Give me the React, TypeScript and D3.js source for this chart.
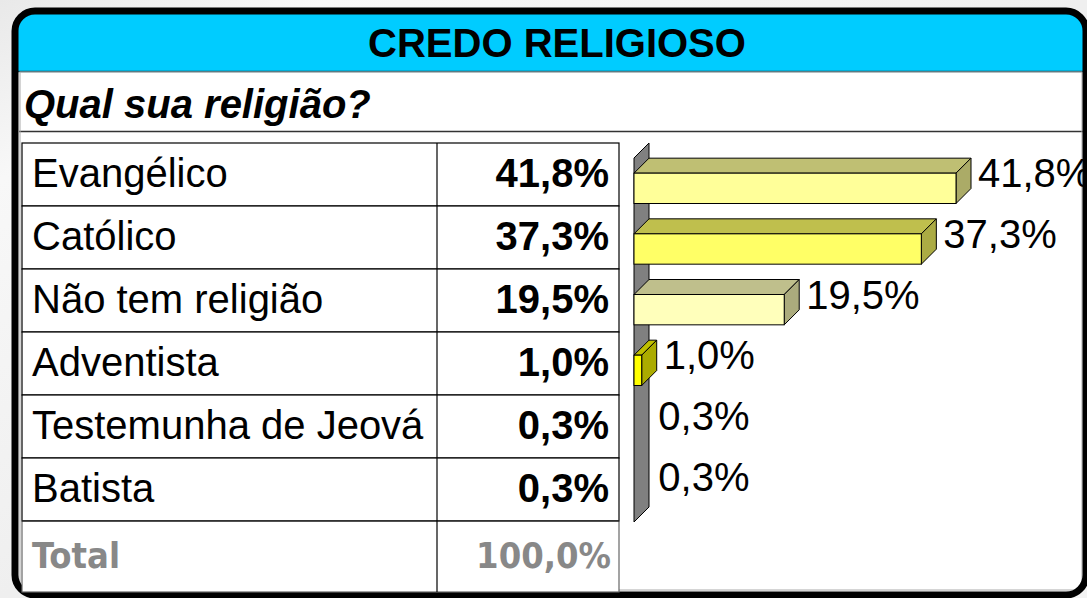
import React from 'react';
import * as d3 from 'd3';

const categories = ["Evangélico", "Católico", "Não tem religião", "Adventista", "Testemunha de Jeová", "Batista"];
const values = [41.8, 37.3, 19.5, 1.0, 0.3, 0.3];
const barColors = ["#FFFF99", "#FFFF66", "#FFFFBB", "#FFFF00", "#FFFF99", "#FFFF66"];
const totalLabel = "Total";
const totalValue = 100.0;
const title = "CREDO RELIGIOSO";
const question = "Qual sua religião?";

const W = 1087;
const H = 598;
const FONT = "'Liberation Sans', Arial, sans-serif";

const ptBR = d3.formatLocale({ decimal: ",", thousands: ".", grouping: [3], currency: ["R$", ""] });
const fmt = (v: number) => ptBR.format(".1f")(v) + "%";

// darker shade for the 3d faces
const shade = (c: string, k: number) => {
  const rgb = d3.rgb(c);
  return d3.rgb(rgb.r * k, rgb.g * k, rgb.b * k).formatHex();
};

export default function App() {
  // table geometry
  const tLeft = 22, tRight = 619, tDiv = 437, tTop = 143, rowH = 63, tBottom = 592;
  const rows = d3.scaleBand<string>()
    .domain([...categories, totalLabel])
    .range([tTop, tTop + rowH * (categories.length + 1)]);

  // chart geometry
  const depth = 15;
  const x = d3.scaleLinear().domain([0, 41.8]).range([634, 956]);
  const y = d3.scaleBand<string>()
    .domain(categories)
    .range([158, 522])
    .paddingInner(0.5)
    .paddingOuter(0.25);
  const bw = y.bandwidth();
  const x0 = x(0);
  const yTop = y.range()[0];
  const yBot = y.range()[1];

  return (
    <svg width={W} height={H} style={{ position: "absolute", left: 0, top: 0, display: "block" }}>
      <defs>
        <clipPath id="frameClip">
          <rect x={15} y={11} width={1071} height={584} rx={20} />
        </clipPath>
        <linearGradient id="bg" x1="0" y1="0" x2="1" y2="1">
          <stop offset="0" stopColor="#e9e9e9" />
          <stop offset="0.15" stopColor="#f8f8f8" />
          <stop offset="0.5" stopColor="#efefef" />
          <stop offset="1" stopColor="#f3f3f3" />
        </linearGradient>
      </defs>
      <rect x={0} y={0} width={W} height={H} fill="url(#bg)" />

      {/* panel */}
      <rect x={15} y={11} width={1071} height={584} rx={20} fill="#ffffff" />
      <g clipPath="url(#frameClip)">
        <rect x={15} y={11} width={1071} height={60} fill="#00CCFF" />
        <line x1={15} x2={1087} y1={71.5} y2={71.5} stroke="#0b4f5e" strokeWidth={1.5} />
        <line x1={19} x2={1087} y1={131.5} y2={131.5} stroke="#333" strokeWidth={1.5} />
        <rect x={20} y={72} width={1062} height={518} fill="none" stroke="#aaa" strokeWidth={1} />
      </g>
      <rect x={15} y={11} width={1071} height={584} rx={20} fill="none" stroke="#000" strokeWidth={7} />

      <text x={557} y={57} textAnchor="middle" fontFamily={FONT} fontWeight="bold" fontSize={40}
        fill="#000">{title}</text>
      <text x={24} y={118} fontFamily={FONT} fontWeight="bold" fontStyle="italic" fontSize={40}
        fill="#000">{question}</text>

      {/* table */}
      <g>
        {categories.map((c, i) => (
          <g key={c}>
            <rect x={tLeft} y={rows(c)} width={tRight - tLeft} height={rowH} fill="#fff"
              stroke="#000" strokeWidth={1.2} />
            <text x={32} y={(rows(c) as number) + 44} fontFamily={FONT} fontSize={40} fill="#000">{c}</text>
            <text x={609} y={(rows(c) as number) + 44} textAnchor="end" fontFamily={FONT}
              fontWeight="bold" fontSize={40} fill="#000">{fmt(values[i])}</text>
          </g>
        ))}
        <rect x={tLeft} y={rows(totalLabel)} width={tRight - tLeft}
          height={tBottom - (rows(totalLabel) as number)} fill="#fff" stroke="#666" strokeWidth={1.2} />
        <line x1={tLeft} x2={tRight} y1={rows(totalLabel)} y2={rows(totalLabel)} stroke="#000" strokeWidth={1.2} />
        <line x1={tDiv} x2={tDiv} y1={tTop} y2={tBottom} stroke="#000" strokeWidth={1.2} />
        <text x={32} y={(rows(totalLabel) as number) + 47}
          fontFamily="'DejaVu Sans Condensed', 'DejaVu Sans', sans-serif" fontStretch="condensed"
          fontWeight="bold" fontSize={36} fill="#888">{totalLabel}</text>
        <text x={611} y={(rows(totalLabel) as number) + 47} textAnchor="end"
          fontFamily="'DejaVu Sans Condensed', 'DejaVu Sans', sans-serif" fontStretch="condensed"
          fontWeight="bold" fontSize={36} fill="#888">{fmt(totalValue)}</text>
      </g>

      {/* 3d wall */}
      <polygon
        points={`${x0},${yTop} ${x0 + depth},${yTop - depth} ${x0 + depth},${yBot - depth} ${x0},${yBot}`}
        fill="#808080" stroke="#000" strokeWidth={1} />

      {/* 3d bars (bars thinner than half a point vanish into the wall, as in the original) */}
      {categories.map((c, i) => {
        const yb = y(c) as number;
        const xv = x(values[i]);
        const col = barColors[i];
        const visible = values[i] >= 0.5;
        return (
          <g key={c}>
            {visible && (
              <>
                <polygon
                  points={`${x0},${yb} ${x0 + depth},${yb - depth} ${xv + depth},${yb - depth} ${xv},${yb}`}
                  fill={shade(col, 0.75)} stroke="#000" strokeWidth={1} />
                <polygon
                  points={`${xv},${yb} ${xv + depth},${yb - depth} ${xv + depth},${yb + bw - depth} ${xv},${yb + bw}`}
                  fill={shade(col, 0.67)} stroke="#000" strokeWidth={1} />
                <rect x={x0} y={yb} width={xv - x0} height={bw} fill={col} stroke="#000" strokeWidth={1} />
              </>
            )}
            <text x={xv + depth + 7} y={yb + bw / 2 - depth + 14} fontFamily={FONT} fontSize={40}
              fill="#000">{fmt(values[i])}</text>
          </g>
        );
      })}
    </svg>
  );
}
